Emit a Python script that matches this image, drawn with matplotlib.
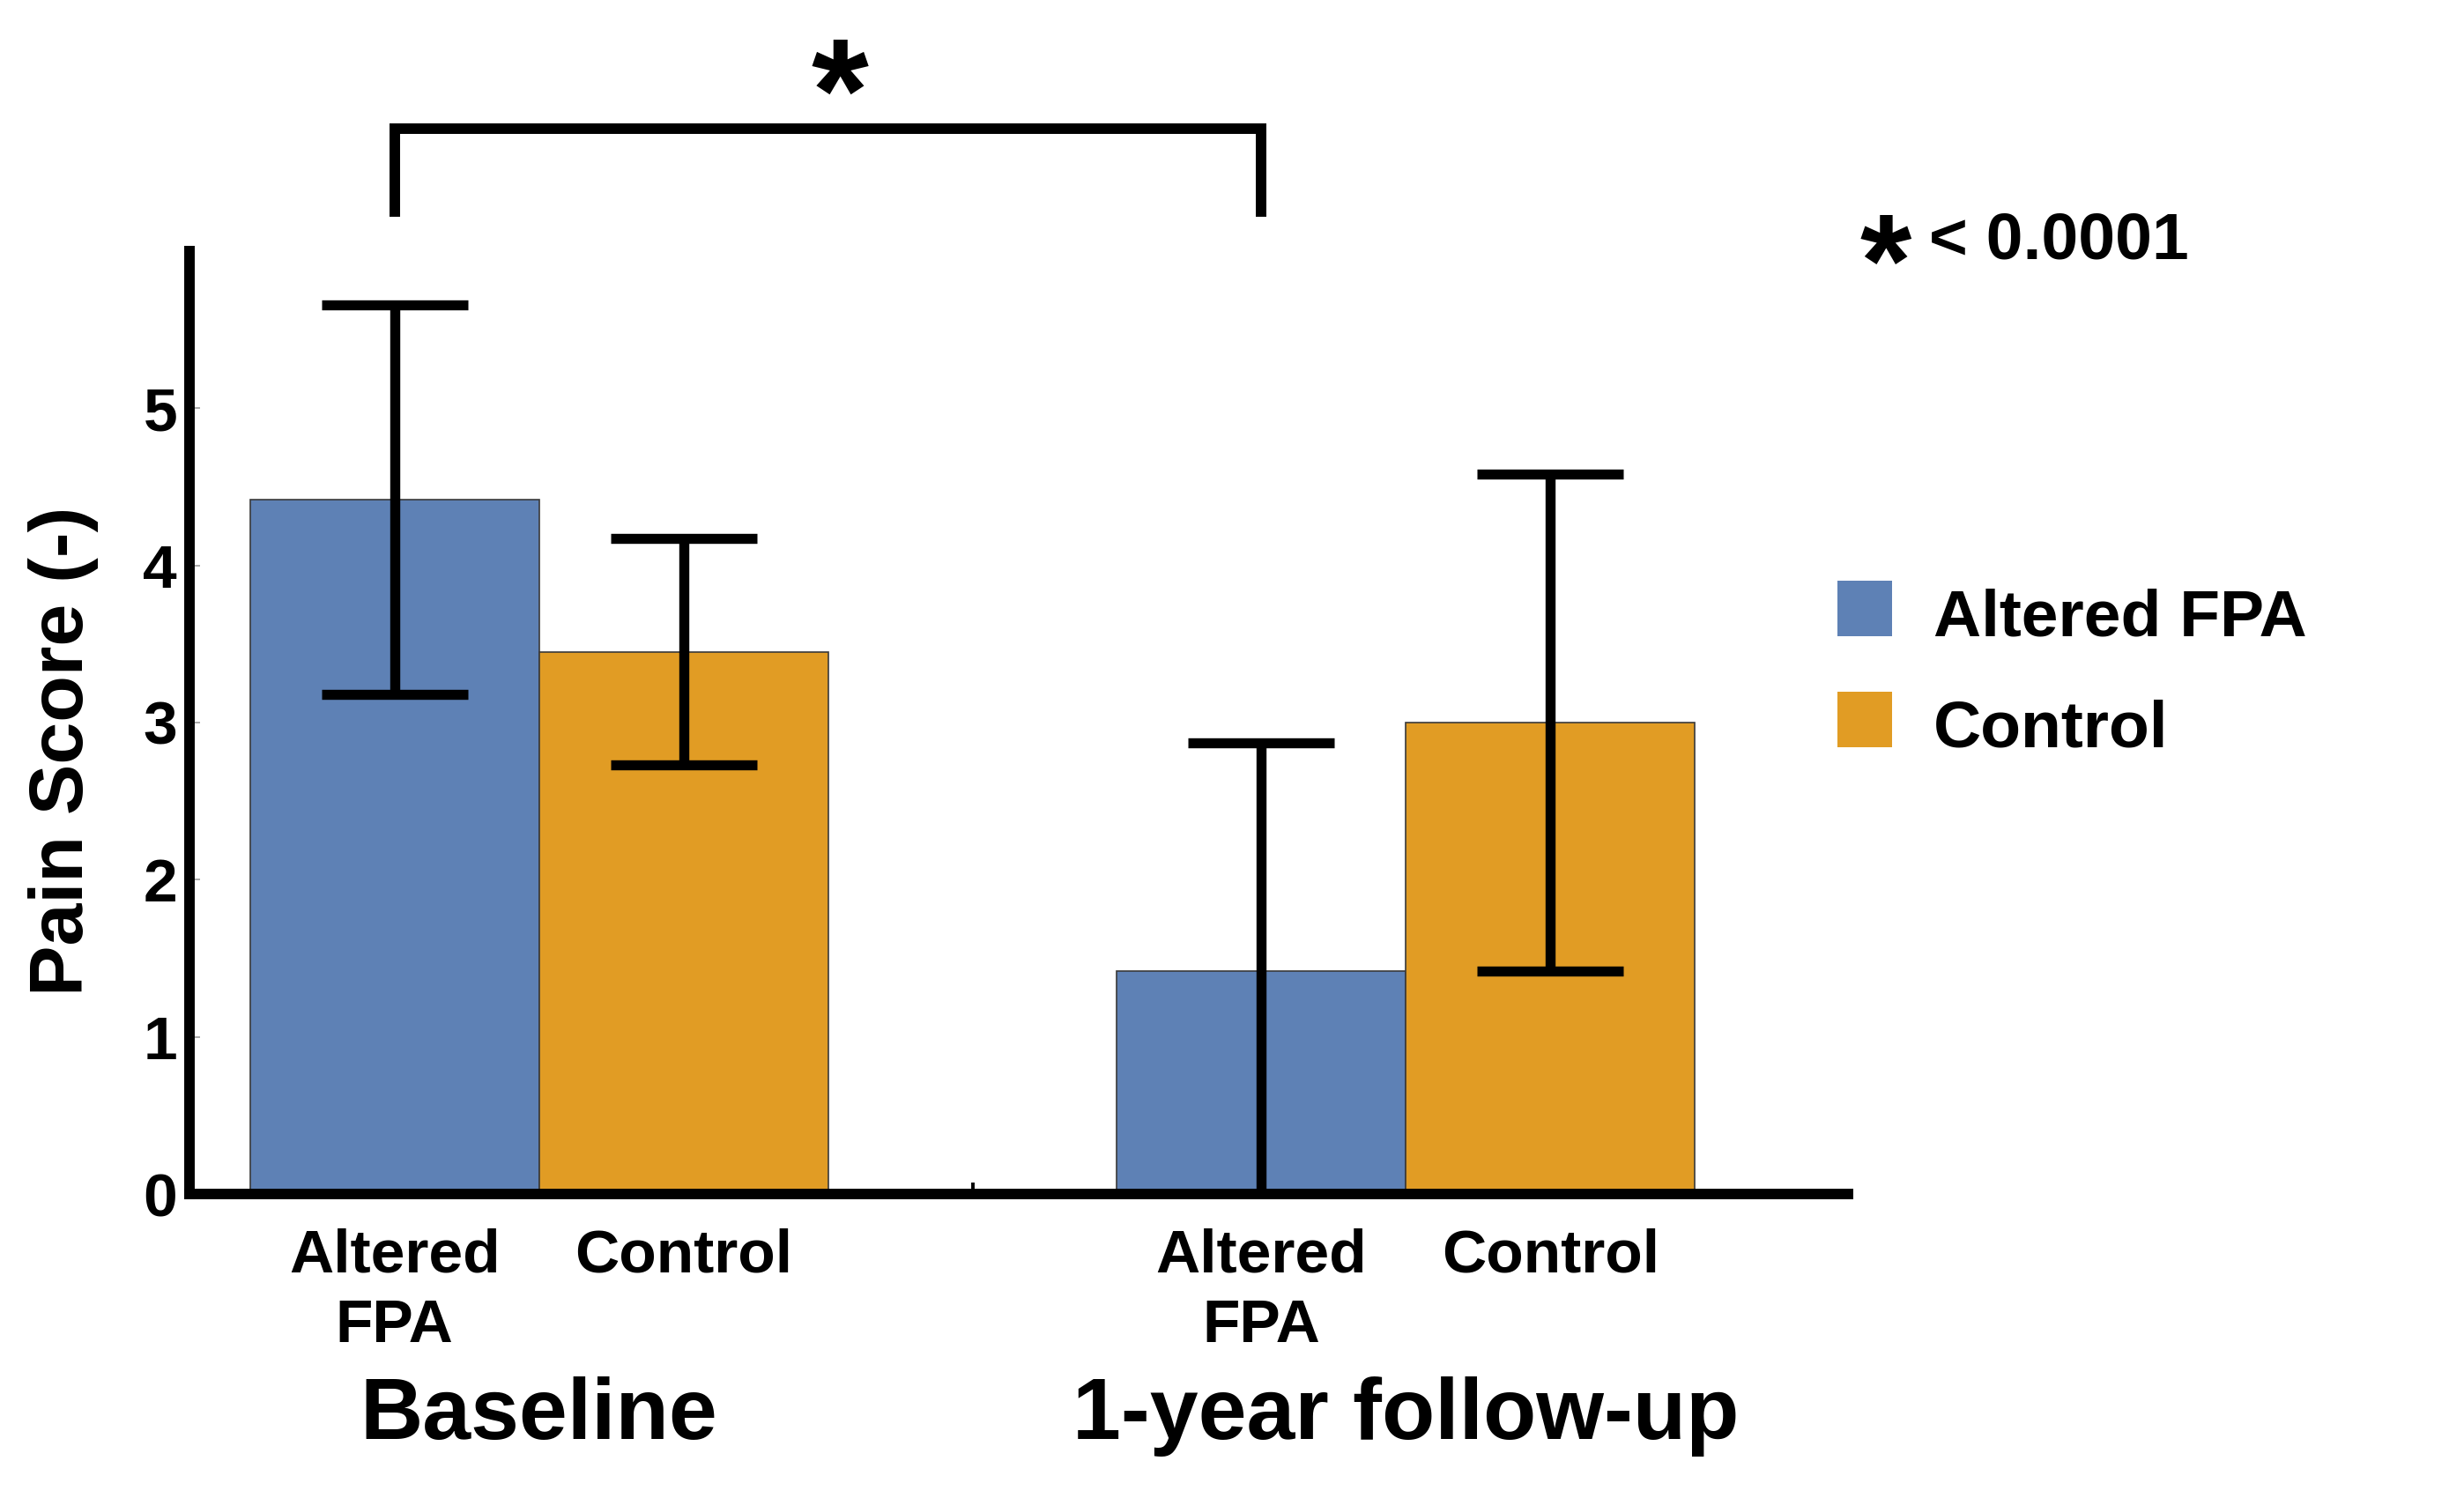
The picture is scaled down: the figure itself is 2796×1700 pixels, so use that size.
import numpy as np
import matplotlib
matplotlib.use('Agg')
import matplotlib.pyplot as plt
from matplotlib.patches import Rectangle

plt.rcParams['font.family'] = ['Liberation Sans', 'DejaVu Sans']
plt.rcParams['font.weight'] = 'bold'

# ------------------------- #
# Dados
# ------------------------- #

groups = ['Baseline', '1-year follow-up']
series = ['Altered FPA', 'Control']
tick_labels = ['Altered\nFPA', 'Control', '', 'Altered\nFPA', 'Control']

altered_mean = [4.42, 1.42]
altered_err = [1.24, 1.45]
control_mean = [3.45, 3.00]
control_err = [0.72, 1.58]

colors = ['#5E81B5', '#E19C24']
p_text = '< 0.0001'

# ------------------------- #
# Figura
# ------------------------- #

fig = plt.figure(figsize=(13.98, 8.5), dpi=200)
ax = fig.add_axes([0.0769, 0.2029, 0.6731, 0.6295])

pos_alt = np.array([1, 4])
pos_ctl = pos_alt + 1

ax.bar(pos_alt, altered_mean, width=1.0, color=colors[0], edgecolor='#3a3a3a', linewidth=0.6, zorder=2)
ax.bar(pos_ctl, control_mean, width=1.0, color=colors[1], edgecolor='#3a3a3a', linewidth=0.6, zorder=2)

for pos, m, e in [(pos_alt, altered_mean, altered_err), (pos_ctl, control_mean, control_err)]:
    ax.errorbar(pos, m, yerr=e, fmt='none', ecolor='black', elinewidth=4.1,
                capsize=30, capthick=4.1, zorder=3)

ax.set_xlim(0.29, 6.03)
ax.set_ylim(0, 6)

for s in ['top', 'right']:
    ax.spines[s].set_visible(False)
for s in ['left', 'bottom']:
    ax.spines[s].set_linewidth(4.3)

ax.set_yticks([0, 1, 2, 3, 4, 5])
ax.tick_params(axis='y', direction='in', length=4.3, width=0.6, color='#999999',
               labelsize=25, pad=5)
ax.set_xticks([1, 2, 3, 4, 5])
ax.set_xticklabels(tick_labels, linespacing=1.3)
ax.tick_params(axis='x', direction='in', length=4.6, width=1.4, color='black',
               labelsize=25, pad=14)
for lbl in ax.get_xticklabels() + ax.get_yticklabels():
    lbl.set_fontweight('bold')

ax.set_ylabel('Pain Score (-)', fontsize=31, fontweight='bold')
ax.yaxis.set_label_coords(-0.0545, 0.47)

# rótulos dos grupos
for i, g in enumerate(groups):
    ax.text(pos_alt[i] + 0.5, -1.56, g, ha='center', va='baseline',
            fontsize=35.5, fontweight='bold', clip_on=False)

# colchete de significância
ax.plot([1, 1, 4, 4], [6.22, 6.78, 6.78, 6.22], color='black', lw=4.3,
        solid_capstyle='butt', solid_joinstyle='miter', clip_on=False)
ax.text(2.54, 6.70, '*', ha='center', va='baseline', fontsize=60,
        fontweight='bold', clip_on=False)

# legenda manual
leg_y = [0.5753, 0.5012]
for c, name, y in zip(colors, series, leg_y):
    fig.patches.append(Rectangle((0.7457, y), 0.02217, 0.0371, transform=fig.transFigure,
                                 facecolor=c, edgecolor='none'))
    fig.text(0.7847, y, name, ha='left', va='baseline', fontsize=27, fontweight='bold')

fig.text(0.7652, 0.7955, '*', ha='center', va='baseline', fontsize=54, fontweight='bold')
fig.text(0.7829, 0.8276, p_text, ha='left', va='baseline', fontsize=27, fontweight='bold')

fig.savefig('out.png', dpi=200)
